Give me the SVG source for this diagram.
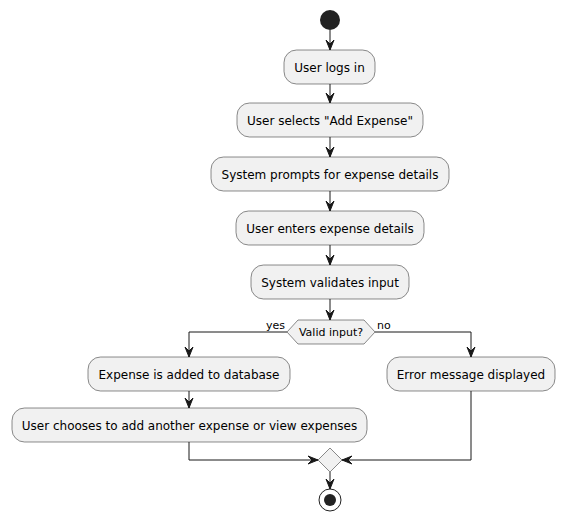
<svg xmlns="http://www.w3.org/2000/svg" width="565" height="523" viewBox="0 0 565 523">
  <style>
    .act rect { fill: #F1F1F1; stroke: #181818; stroke-width: 0.5; }
    .act text { font-family: "DejaVu Sans", "Liberation Sans", sans-serif; font-size: 12px; fill: #000; text-anchor: middle; }
    .dec polygon { fill: #F1F1F1; stroke: #181818; stroke-width: 0.5; }
    .lbl { font-family: "DejaVu Sans", "Liberation Sans", sans-serif; font-size: 11px; fill: #000; }
    .edges line, .edges polyline { stroke: #181818; stroke-width: 1; fill: none; }
    .edges polygon { fill: #181818; stroke: #181818; stroke-width: 1; }
  </style>
  <rect width="565" height="523" fill="#FFFFFF"/>

  <!-- start -->
  <g id="start">
    <circle cx="330" cy="20" r="10" fill="#222222"/>
  </g>

  <!-- activities -->
  <g id="login" class="act">
    <rect x="284" y="50" width="91" height="34" rx="12.5" ry="12.5"/>
    <text x="329.5" y="71.5">User logs in</text>
  </g>
  <g id="selectAdd" class="act">
    <rect x="237" y="103" width="186" height="34" rx="12.5" ry="12.5"/>
    <text x="330" y="124.5">User selects "Add Expense"</text>
  </g>
  <g id="prompt" class="act">
    <rect x="211" y="157" width="238" height="34" rx="12.5" ry="12.5"/>
    <text x="330" y="178.5">System prompts for expense details</text>
  </g>
  <g id="enter" class="act">
    <rect x="236" y="211" width="188" height="34" rx="12.5" ry="12.5"/>
    <text x="330" y="232.5">User enters expense details</text>
  </g>
  <g id="validate" class="act">
    <rect x="251" y="265" width="158" height="34" rx="12.5" ry="12.5"/>
    <text x="330" y="286.5">System validates input</text>
  </g>

  <!-- decision -->
  <g id="validCheck" class="dec">
    <polygon points="287,332 298,320 364,320 375,332 364,344 298,344"/>
    <text class="lbl" x="331" y="336" text-anchor="middle">Valid input?</text>
  </g>

  <g id="addDb" class="act">
    <rect x="88" y="357" width="202" height="34" rx="12.5" ry="12.5"/>
    <text x="189" y="378.5">Expense is added to database</text>
  </g>
  <g id="chooseNext" class="act">
    <rect x="12" y="408" width="355" height="34" rx="12.5" ry="12.5"/>
    <text x="189.5" y="429.5">User chooses to add another expense or view expenses</text>
  </g>
  <g id="errorMsg" class="act">
    <rect x="387" y="357" width="168" height="34" rx="12.5" ry="12.5"/>
    <text x="471" y="378.5">Error message displayed</text>
  </g>

  <!-- merge -->
  <g id="merge" class="dec">
    <polygon points="330,448 342,460 330,472 318,460"/>
  </g>

  <!-- end -->
  <g id="end">
    <circle cx="330" cy="500" r="11" fill="none" stroke="#222222" stroke-width="1"/>
    <circle cx="330" cy="500" r="6" fill="#222222"/>
  </g>

  <!-- connectors -->
  <g id="connectors" class="edges">
    <line x1="330" y1="30" x2="330" y2="50"/>
    <polygon points="326,40 330,50 334,40 330,44"/>
    <line x1="330" y1="84" x2="330" y2="103"/>
    <polygon points="326,93 330,103 334,93 330,97"/>
    <line x1="330" y1="137" x2="330" y2="157"/>
    <polygon points="326,147 330,157 334,147 330,151"/>
    <line x1="330" y1="191" x2="330" y2="211"/>
    <polygon points="326,201 330,211 334,201 330,205"/>
    <line x1="330" y1="245" x2="330" y2="265"/>
    <polygon points="326,255 330,265 334,255 330,259"/>
    <line x1="330" y1="299" x2="330" y2="320"/>
    <polygon points="326,310 330,320 334,310 330,314"/>

    <!-- yes branch -->
    <polyline points="287,332 189,332 189,357"/>
    <polygon points="185,347 189,357 193,347 189,351"/>
    <line x1="189" y1="391" x2="189" y2="408"/>
    <polygon points="185,398 189,408 193,398 189,402"/>
    <polyline points="189,442 189,460 318,460"/>
    <polygon points="308,456 318,460 308,464 312,460"/>

    <!-- no branch -->
    <polyline points="375,332 471,332 471,357"/>
    <polygon points="467,347 471,357 475,347 471,351"/>
    <polyline points="471,391 471,460 342,460"/>
    <polygon points="352,456 342,460 352,464 348,460"/>

    <line x1="330" y1="472" x2="330" y2="489"/>
    <polygon points="326,479 330,489 334,479 330,483"/>
  </g>

  <!-- branch labels -->
  <text class="lbl" x="285" y="329" text-anchor="end">yes</text>
  <text class="lbl" x="377" y="329">no</text>
</svg>
